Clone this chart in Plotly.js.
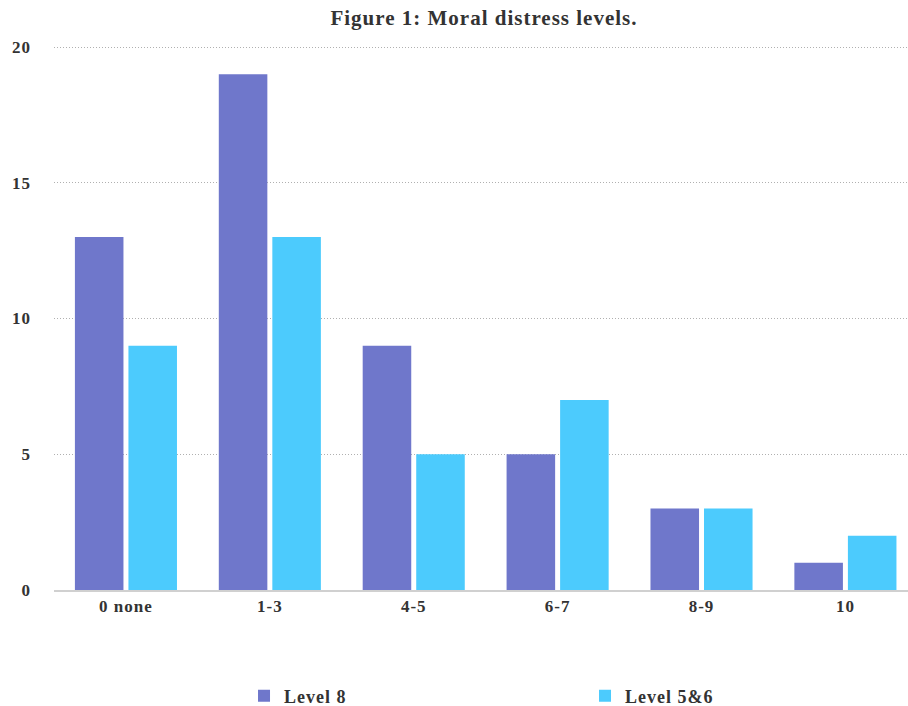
<!DOCTYPE html>
<html>
<head>
<meta charset="utf-8">
<script src="https://cdn.plot.ly/plotly-3.0.1.min.js"></script>
<style>
html,body{margin:0;padding:0;background:#fff;}
#chart{width:908px;height:706px;}
#chart text{letter-spacing:1px;}
</style>
</head>
<body>
<div id="chart"></div>
<script>
const categories = ["0 none", "1-3", "4-5", "6-7", "8-9", "10"];
const level8 = [13, 19, 9, 5, 3, 1];
const level56 = [9, 13, 5, 7, 3, 2];
const yTicks = [0, 5, 10, 15, 20];

const serif = "Liberation Serif, Times New Roman, serif";

const traces = [
  {type: "bar", name: "Level 8", x: categories, y: level8,
   marker: {color: "#6f77cb", line: {width: 0}}},
  {type: "bar", name: "Level 5&6", x: categories, y: level56,
   marker: {color: "#4ccbfd", line: {width: 0}}}
];

const layout = {
  width: 908, height: 706,
  margin: {l: 54, r: 0, t: 46, b: 116, autoexpand: false},
  paper_bgcolor: "#fff", plot_bgcolor: "#fff",
  title: {text: "<b>Figure 1: Moral distress levels.</b>", x: 0.533, xanchor: "center", y: 0.975, yanchor: "middle",
          font: {family: serif, size: 21, color: "#333"}},
  barmode: "group", bargap: 0.256, bargroupgap: 0.093,
  showlegend: true,
  legend: {orientation: "h", x: 0.2225, xanchor: "left", y: -0.195, yanchor: "middle",
           entrywidth: 296, entrywidthmode: "pixels",
           font: {family: serif, size: 18, color: "#333", weight: "bold"}},
  xaxis: {type: "category", range: [-0.5, 5.435], showgrid: false, zeroline: false, automargin: false,
          showline: true, linecolor: "#d0d0d0", linewidth: 1.5, ticks: "",
          tickfont: {family: serif, size: 17, color: "#333", weight: "bold"}},
  yaxis: {range: [0, 20.04], tickvals: yTicks, ticktext: yTicks.map(String), automargin: false,
          showgrid: true, gridcolor: "#b0b0b0", griddash: "1px,2px", gridwidth: 1,
          zeroline: false, showline: false, ticks: "", ticklabelstandoff: 22,
          tickfont: {family: serif, size: 17, color: "#333", weight: "bold"}},
  font: {family: serif}
};

Plotly.newPlot("chart", traces, layout, {displayModeBar: false, staticPlot: true});
</script>
</body>
</html>
